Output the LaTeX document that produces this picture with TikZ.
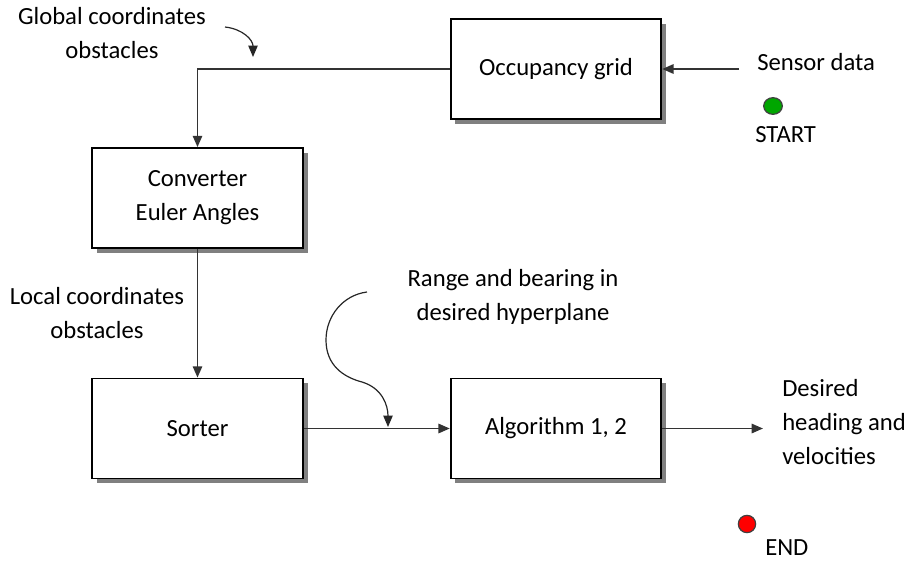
\documentclass[tikz,border=0pt]{standalone}
\usepackage{fontspec}
\setmainfont{Carlito}
\usetikzlibrary{arrows.meta,shadows,shapes.geometric}
\begin{document}
\begin{tikzpicture}[x=0.75pt,y=-0.75pt,
  font=\fontsize{18.5}{25.5}\selectfont,
  blockbox/.style={draw=black,line width=1.3pt,fill=white,minimum width=158pt,minimum height=75pt,inner sep=0pt,
    drop shadow={shadow xshift=3.6pt,shadow yshift=-3.6pt,fill=black!50,opacity=1}},
  arr/.style={draw=black!80,line width=1.4pt,-{Triangle[length=8.5pt,width=7pt]}},
  curvearr/.style={draw=black!85,line width=0.9pt,-{Triangle[length=8.5pt,width=7pt]}},
  lbl/.style={inner sep=0pt,align=center,text=black},
  dot/.style={draw=black!75,line width=0.9pt}
]
\useasboundingbox (0,0) rectangle (914,561);

% blocks
\node[blockbox] (occ) at (556,69) {Occupancy grid};
\node[blockbox,align=center] (conv) at (197.5,198) {Converter\\Euler Angles};
\node[blockbox] (sort) at (197.5,428.5) {Sorter};
\node[blockbox] (alg) at (556,428.5) {Algorithm 1, 2};

% free ends
\coordinate (sensorend) at (739,69);
\coordinate (outend) at (763,428.5);

% connectors
\draw[arr] (occ.west) -| (conv.north);
\draw[arr] (conv.south) -- (sort.north);
\draw[arr] (sort.east) -- (alg.west);
\draw[arr] (alg.east) -- (outend);
\draw[arr] (sensorend) -- (occ.east);

% labels
\node[lbl] (glob) at (112,33) {Global coordinates\\obstacles};
\node[lbl] (loc) at (97,313) {Local coordinates\\obstacles};
\node[lbl] (range) at (513,297) {Range and bearing in\\desired hyperplane};
\node[lbl,align=left,anchor=west] (des) at (782,422) {Desired\\heading and\\velocities};
\node[lbl,anchor=west] (sens) at (757,62) {Sensor data};
\node[lbl,anchor=west] (startlbl) at (755,135) {START};
\node[lbl,anchor=west] (endlbl) at (765,548) {END};

% start / end dots
\node[dot,fill=green!65!black,ellipse,minimum width=14pt,minimum height=12.5pt,inner sep=0pt] (startdot) at (773,106) {};
\node[dot,fill=red,circle,minimum size=13pt,inner sep=0pt] (enddot) at (747,524) {};

% curved arrows
\coordinate (g1) at (225,27);
\coordinate (g2) at (253,57);
\draw[curvearr] (g1) .. controls (243,29) and (253,40) .. (g2);

\coordinate (r1) at (367,292);
\coordinate (r2) at (326,340);
\coordinate (r3) at (362,382);
\coordinate (r4) at (388,427);
\draw[curvearr] (r1) .. controls (343,295) and (326,316) .. (r2)
  .. controls (326,365) and (343,377) .. (r3)
  .. controls (382,388) and (388,405) .. (r4);
\end{tikzpicture}
\end{document}
